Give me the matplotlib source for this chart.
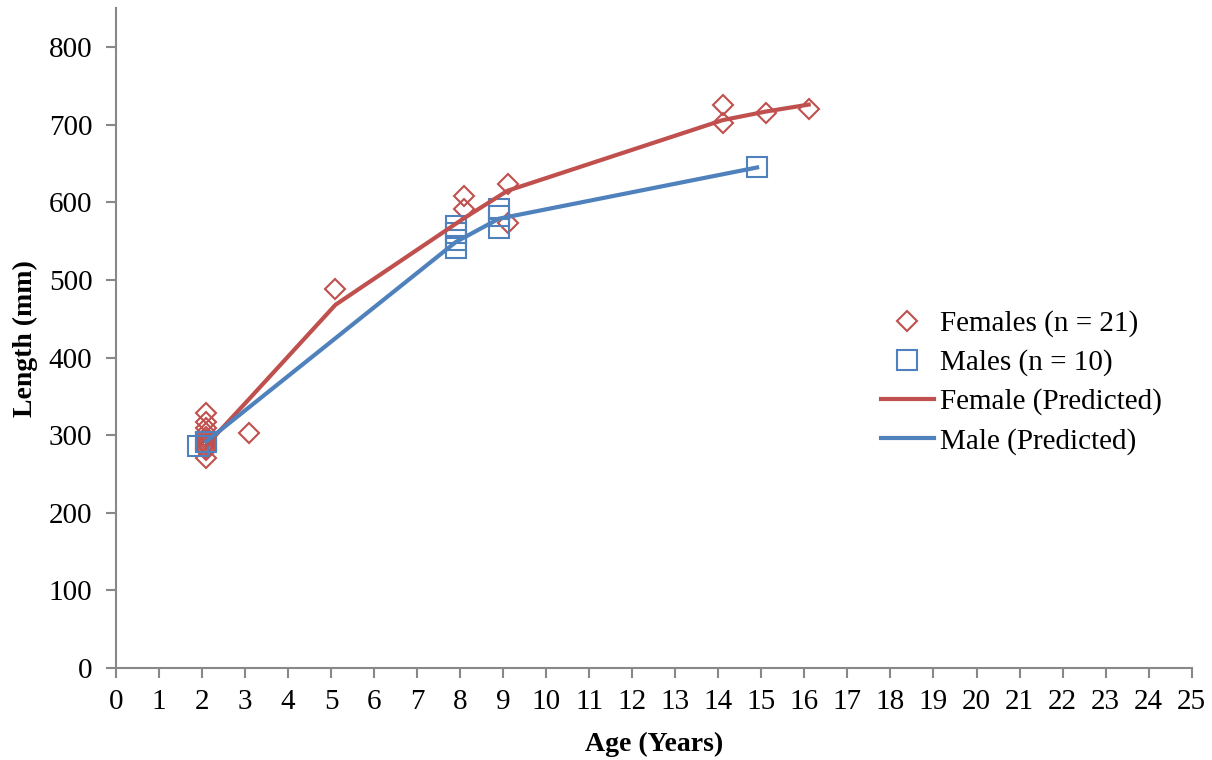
import numpy as np
import matplotlib
matplotlib.use("Agg")
import matplotlib.pyplot as plt

plt.rcParams['font.family'] = ['Liberation Serif', 'DejaVu Serif']

# observed lengths (mm) by age (years); ages nudged apart so the sexes don't overlap
f_age = [2.1]*11 + [3.1, 5.1, 8.1, 8.1, 9.1, 9.1, 14.1, 14.1, 15.1, 16.1]
f_len = [328, 317, 309, 303, 298, 294, 290, 287, 284, 281, 271,
         303, 488, 608, 591, 624, 573, 725, 702, 715, 720]
m_age = [1.9, 2.1, 7.9, 7.9, 7.9, 7.9, 8.9, 8.9, 8.9, 14.9]
m_len = [286, 291, 570, 561, 551, 541, 592, 583, 567, 646]

# growth model predictions
fp_age = [2.1, 3.1, 5.1, 8.1, 9.1, 14.1, 15.1, 16.1]
fp_len = [287, 347, 468, 580, 615, 706, 717, 726]
mp_age = [2.1, 7.9, 8.9, 14.9]
mp_len = [292, 549, 579, 645]

red = '#c0504d'
blue = '#4f81bd'

fig = plt.figure(figsize=(12.12, 7.6), dpi=100)
ax = fig.add_axes([0.0957, 0.121, 0.8875, 0.868])

ax.plot(f_age, f_len, 'D', ms=10.5, mfc='none', mec=red, mew=1.5, ls='none',
        label='Females (n = 21)')
ax.plot(m_age, m_len, 's', ms=15, mfc='none', mec=blue, mew=1.5, ls='none',
        label='Males (n = 10)')
ax.plot(fp_age, fp_len, '-', color=red, lw=3, label='Female (Predicted)')
ax.plot(mp_age, mp_len, '-', color=blue, lw=3, label='Male (Predicted)')

ax.set_xlim(0, 25)
ax.set_ylim(0, 850)
ax.set_xticks(np.arange(0, 26, 1))
ax.set_yticks(np.arange(0, 801, 100))
for s in ['top', 'right']:
    ax.spines[s].set_visible(False)
for s in ['left', 'bottom']:
    ax.spines[s].set_color('#888888')
    ax.spines[s].set_linewidth(1.5)
ax.tick_params(colors='#888888', labelcolor='black', labelsize=21, width=1.5, length=7)
ax.tick_params(axis='x', pad=8)
ax.tick_params(axis='y', pad=10)

ax.set_xlabel('Age (Years)', fontsize=20, fontweight='bold', labelpad=12)
ax.set_ylabel('Length (mm)', fontsize=20, fontweight='bold', labelpad=8)

leg = ax.legend(loc='center left', bbox_to_anchor=(0.687, 0.433), frameon=False,
                fontsize=21, handlelength=1.8, handletextpad=0.2, labelspacing=0.42)

fig.savefig('out.png', dpi=100)
